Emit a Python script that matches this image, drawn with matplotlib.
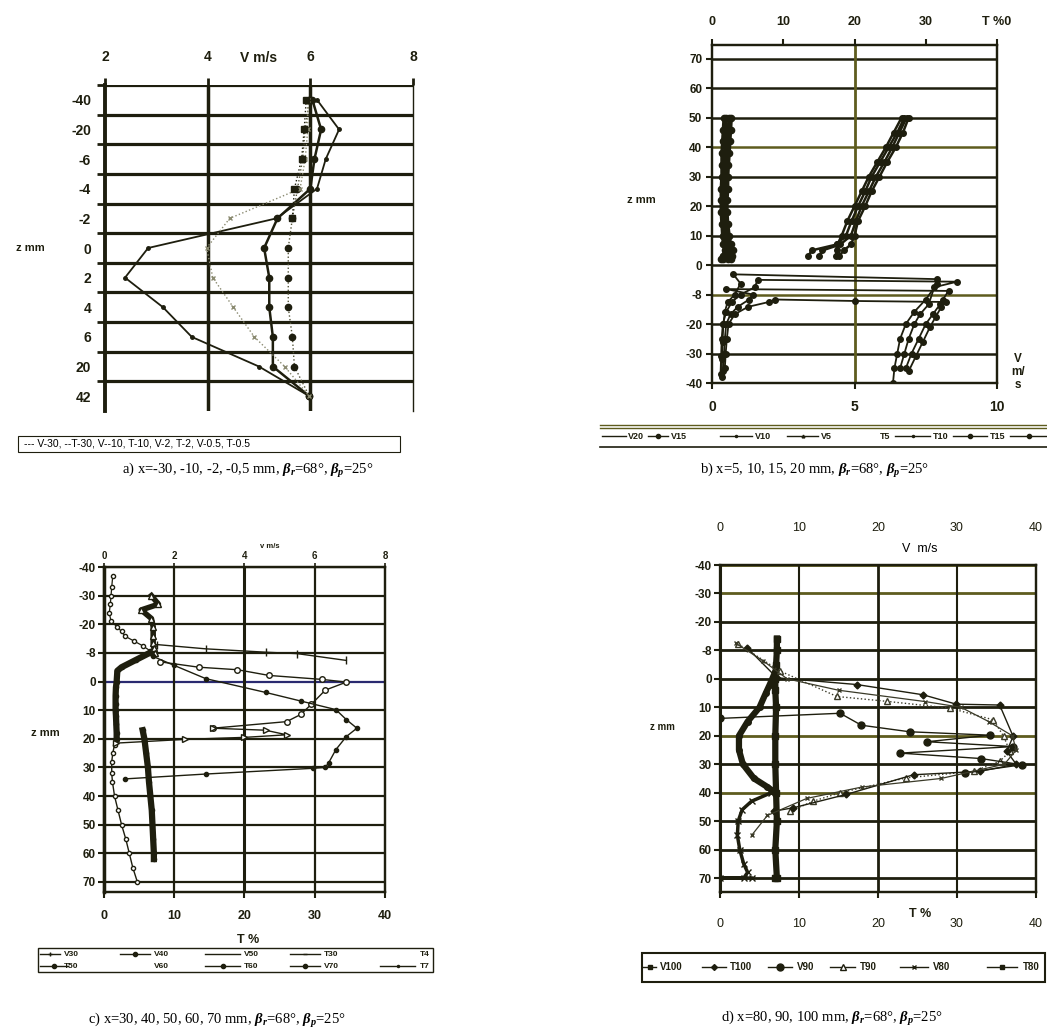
import numpy as np
import matplotlib.pyplot as plt
from matplotlib.lines import Line2D
from matplotlib.patches import Rectangle

plt.rcParams['font.family'] = ['Liberation Sans', 'DejaVu Sans']
plt.rcParams['font.weight'] = 'bold'
plt.rcParams['mathtext.fontset'] = 'custom'
plt.rcParams['mathtext.rm'] = 'Liberation Serif'
plt.rcParams['mathtext.it'] = 'Liberation Serif:italic'

INK = '#1e1e0e'
OLIVE = '#5e5c1e'

#=====================================================================#
# DATA

# a) V m/s per z row (category rows)
a_rows = ['-40', '-20', '-6', '-4', '-2', '0', '2', '4', '6', '20', '42']
a_v30 = [6.13, 6.56, 6.30, 6.13, 5.34, 2.84, 2.39, 3.13, 3.69, 5.00, 5.98]
a_v10 = [6.04, 6.21, 6.08, 6.00, 5.36, 5.10, 5.20, 5.20, 5.27, 5.27, 5.98]
a_v2 = [5.98, 5.90, 5.85, 5.75, 5.65, 5.57, 5.57, 5.57, 5.65, 5.69, 5.98]
a_t2 = [5.95, 5.95, 5.90, 5.80, 4.43, 3.98, 4.10, 4.50, 4.91, 5.50, 5.98]
a_v05 = [5.92, 5.88, 5.83, 5.69, 5.65]

# b) rows, T % above the plate, V m/s below
b_rows = [70, 60, 50, 40, 30, 20, 10, 0, -8, -20, -30, -40]
b_zl = [50, 46, 42, 38, 34, 30, 26, 22, 18, 14, 10, 7, 5, 3, 2]
b_t5l = [2.0, 1.9, 1.9, 1.8, 1.7, 1.7, 1.6, 1.6, 1.6, 1.7, 1.8, 2.0, 2.3, 2.0, 1.6]
b_t10l = [2.4, 2.3, 2.2, 2.1, 2.0, 2.0, 1.9, 1.9, 1.9, 2.0, 2.2, 2.4, 2.7, 2.5, 2.2]
b_t15l = [2.7, 2.6, 2.5, 2.4, 2.3, 2.2, 2.2, 2.1, 2.1, 2.2, 2.4, 2.6, 2.9, 2.8, 2.6]
b_t20l = [1.7, 1.6, 1.5, 1.4, 1.4, 1.4, 1.3, 1.3, 1.3, 1.4, 1.5, 1.6, 1.8, 1.5, 1.2]
b_zr = [50, 45, 40, 35, 30, 25, 20, 15, 10, 7, 5, 3]
b_t5r = [27.0, 26.0, 24.8, 23.6, 22.4, 21.5, 20.5, 19.6, 18.8, 17.5, 14.0, 13.5]
b_t10r = [27.3, 26.3, 25.3, 24.2, 23.0, 22.0, 21.0, 20.2, 19.5, 18.0, 15.5, 15.0]
b_t15r = [26.6, 25.5, 24.4, 23.2, 22.0, 21.0, 20.0, 19.0, 18.2, 17.6, 17.5, 17.4]
b_t20r = [27.6, 26.8, 25.8, 24.6, 23.5, 22.4, 21.5, 20.5, 20.0, 19.5, 18.5, 17.8]
b_v5_z = [-38, -32, -26, -20, -15, -11, -8, -5, -2.5, -3.8, -5, -10, -15, -20, -25, -30, -35, -40]
b_v5 = [0.35, 0.35, 0.37, 0.40, 0.45, 0.55, 0.80, 1.00, 0.75, 7.9, 7.9, 7.5, 7.1, 6.8, 6.6, 6.5, 6.4, 6.35]
b_v10_z = [-37, -31, -25, -20, -15, -11, -8, -6, -4, -4.5, -6, -12, -16, -20, -25, -30, -35]
b_v10 = [0.30, 0.32, 0.34, 0.38, 0.50, 0.70, 1.00, 1.50, 1.60, 8.6, 7.8, 7.6, 7.3, 7.1, 6.9, 6.75, 6.6]
b_v15_z = [-36, -30, -25, -20, -16, -13, -10, -8, -6.5, -7, -10, -12, -16, -20, -25, -30, -35]
b_v15 = [0.40, 0.42, 0.45, 0.50, 0.65, 0.90, 1.30, 1.45, 0.50, 8.3, 8.1, 8.0, 7.75, 7.5, 7.25, 7.0, 6.8]
b_v20_z = [-35, -30, -25, -20, -16, -13, -11, -10, -10.6, -11, -13, -17, -21, -26, -31, -36]
b_v20 = [0.45, 0.48, 0.52, 0.58, 0.80, 1.26, 2.00, 2.2, 5.0, 8.2, 8.05, 7.85, 7.65, 7.4, 7.15, 6.9]

# c) rows, V m/s on top axis
cd_rows = [-40, -30, -20, -8, 0, 10, 20, 30, 40, 50, 60, 70]
c1_z = [-37, -33, -30, -27, -24, -21, -19, -17, -15, -13, -11, -9, -8]
c1_v = [0.25, 0.22, 0.20, 0.18, 0.15, 0.20, 0.37, 0.50, 0.60, 0.85, 1.10, 1.30, 1.35]
c2_z = [-8, -6, -4, -3, 0, 2, 5, 8, 10, 12, 15, 18, 20]
c2_v = [1.30, 0.90, 0.50, 0.38, 0.36, 0.34, 0.33, 0.33, 0.33, 0.34, 0.35, 0.36, 0.36]
c3_z = [22, 25, 28, 32, 35, 40, 45, 50, 55, 60, 65, 70]
c3_v = [0.30, 0.25, 0.22, 0.22, 0.24, 0.30, 0.40, 0.50, 0.62, 0.72, 0.82, 0.95]
c4_z = [-30, -27, -25, -22, -19, -15, -12, -10, -8]
c4_v = [1.35, 1.55, 1.06, 1.35, 1.40, 1.40, 1.40, 1.42, 1.45]
c5_z = [17, 20, 25, 30, 35, 40, 45, 50, 55, 60, 62]
c5_v = [1.10, 1.15, 1.20, 1.25, 1.28, 1.32, 1.36, 1.38, 1.40, 1.42, 1.42]
c6_z = [-11.5, -9.7, -8.3, -7.8, -5.9]
c6_v = [1.5, 2.9, 4.6, 5.5, 6.9]
c7_z = [-5.5, -4.0, -3.3, -1.7, -0.6, 0.2, 3.0, 8.0, 11.5, 14.0, 16.3]
c7_v = [1.6, 2.7, 3.8, 4.7, 6.2, 6.9, 6.3, 5.9, 5.6, 5.2, 3.1]
c8_z = [-7, -4.5, -0.8, 3.8, 6.8, 9.8, 13.3, 16.3, 19.2, 23.8, 28.3, 30.0, 30.3, 32.3, 34.0]
c8_v = [1.4, 2.0, 2.9, 4.6, 5.6, 6.6, 6.9, 7.2, 6.9, 6.6, 6.4, 6.3, 5.95, 2.9, 0.6]
c9_z = [16.3, 17.0, 18.6, 19.5, 20.2, 21.5]
c9_v = [3.1, 4.6, 5.2, 4.0, 2.3, 0.35]

# d) rows, T % on both axes
d1_z = [-13, -8, -4, 0, 4, 10, 20, 30, 40, 50, 60, 70, 72]
d1_t = [7.2, 7.2, 7.1, 7.0, 7.0, 7.1, 7.0, 7.0, 7.1, 7.2, 7.0, 7.2, 7.0]
d2_z = [-2, 2, 5, 10, 15, 20, 25, 30, 35, 38, 40]
d2_t = [7.0, 6.3, 5.8, 5.0, 3.5, 2.4, 2.4, 2.9, 4.3, 6.0, 7.0]
d3_z = [40, 43, 46, 50, 55, 60, 65, 68, 70, 70, 72]
d3_t = [6.5, 4.0, 2.8, 2.3, 2.2, 2.5, 3.0, 3.5, 3.0, 0.0, 4.0]
d4_z = [-10.7, -2.2, 6.2, 7.9, 10.3, 14.4, 20.2, 25.5, 29.0, 32.5, 34.8, 40.0, 43.0, 46.5]
d4_t = [2.3, 7.6, 14.8, 21.1, 29.1, 34.6, 35.9, 36.7, 35.4, 32.1, 23.6, 15.2, 11.8, 8.9]
d5_z = [-9.2, -0.3, 2.0, 5.6, 8.9, 9.2, 20.2, 25.5, 30.0, 32.5, 33.7, 40.6, 45.3, 46.5]
d5_t = [3.4, 7.2, 17.3, 25.7, 29.9, 35.4, 37.1, 36.3, 37.5, 32.9, 24.5, 16.0, 9.3, 6.8]
d6_z = [13.9, 12.1, 16.3, 18.6, 19.8, 22.1, 23.8, 26.1, 28.0, 30.2, 33.0]
d6_t = [0.0, 15.2, 17.9, 24.0, 34.2, 26.2, 37.1, 22.8, 33.0, 38.2, 31.0]
d7_z = [-11, -5, 0, 4, 8, 10, 15, 20, 25, 30, 35, 38, 42, 48, 55]
d7_t = [2.0, 5.5, 8.5, 15.0, 26.0, 30.5, 34.0, 37.0, 37.5, 36.0, 28.0, 18.0, 11.0, 6.0, 4.0]

#=====================================================================#
# LAYOUT HELPERS

W, H = 1047, 1030
fig = plt.figure(figsize=(W / 100, H / 100), dpi=100)


def box(x0, y0, x1, y1):
    return [x0 / W, 1 - y1 / H, (x1 - x0) / W, (y1 - y0) / H]


def fx(x):
    return x / W


def fy(y):
    return 1 - y / H


def zpos(z, rows):
    rows = np.asarray(rows, float)
    idx = np.arange(len(rows))
    order = np.argsort(rows)
    return np.interp(z, rows[order], idx[order])


def leg_sample(x0, x1, y, marker=None, ms=3, mfc=INK):
    fig.add_artist(Line2D([fx(x0), fx(x1)], [fy(y), fy(y)], color=INK, lw=1.0))
    if marker:
        fig.add_artist(Line2D([fx((x0 + x1) / 2)], [fy(y)], color=INK, marker=marker,
                              ms=ms, mfc=mfc, ls='none'))


def leg_text(x, y, s, size=6.5):
    fig.text(fx(x), fy(y), s, fontsize=size, va='center', ha='left', color=INK)


def caption(x, y, s):
    fig.text(fx(x), fy(y), s, fontsize=10.5, ha='center', va='center',
             family='Liberation Serif', weight='normal')


def style_spines(ax, lw=1.5):
    for s in ax.spines.values():
        s.set_color(INK)
        s.set_linewidth(lw)

#=====================================================================#
# PANEL A

ax = fig.add_axes(box(105, 85, 413, 411))
ax.set_xlim(2, 8)
ax.set_ylim(10.5, -0.5)
for y in np.arange(-0.5, 10, 1):
    ax.axhline(y, color=INK, lw=2.3)
for x in [4, 6]:
    ax.axvline(x, color=INK, lw=2.5)
style_spines(ax)
ax.spines['left'].set_linewidth(2.8)
ax.spines['top'].set_visible(False)
ax.spines['bottom'].set_visible(False)
ax.spines['right'].set_linewidth(1.0)
ax.set_yticks(range(len(a_rows)))
ax.set_yticklabels(a_rows, fontsize=10)
ax.set_yticks(np.arange(-0.5, 10, 1), minor=True)
ax.tick_params(axis='y', which='major', length=0, pad=10, colors=INK)
ax.tick_params(axis='y', which='minor', length=6, width=2, colors=INK)
ax.xaxis.tick_top()
ax.set_xticks([2, 4, 6, 8])
ax.set_xticklabels(['2', '4', '6', '8'], fontsize=10)
ax.tick_params(axis='x', length=5, width=2, pad=10, colors=INK)
ax.text(5.0, -1.4, 'V m/s', ha='center', va='center', fontsize=10, color=INK)

ya = np.arange(len(a_rows))
ax.plot(a_v30, ya, color=INK, lw=1.3, marker='o', ms=2.5)
ax.plot(a_v10, ya, color=INK, lw=1.8, marker='o', ms=4.5)
ax.plot(a_v2, ya, color='#55553a', lw=1.0, ls=':', marker='o', ms=4.5, mfc=INK, mec=INK)
ax.plot(a_t2, ya, color='#8a8a70', lw=1.0, ls=':', marker='x', ms=3)
ax.plot(a_v05, ya[:len(a_v05)], color=INK, lw=1.0, ls=':', marker='s', ms=4.5)
fig.text(fx(30), fy(248), 'z mm', fontsize=8, ha='center', va='center', color=INK)

fig.add_artist(Rectangle((fx(18), fy(452)), fx(400) - fx(18), fy(436) - fy(452),
                         fill=False, lw=0.8, ec=INK))
fig.text(fx(24), fy(444), '--- V-30, --T-30, V--10, T-10, V-2, T-2, V-0.5, T-0.5',
         fontsize=7.5, weight='normal', va='center', ha='left')
caption(248, 470, r'a) x=-30, -10, -2, -0,5 mm, $\beta_r$=68°, $\beta_p$=25°')

#=====================================================================#
# PANEL B

ax = fig.add_axes(box(712, 45, 997, 383))
ax.set_xlim(0, 10)
ax.set_ylim(11, -0.47)
for i, r in enumerate(b_rows):
    ax.axhline(i, color=OLIVE if r in (40, -8) else INK, lw=1.8)
ax.axvline(5, color=OLIVE, lw=2.0)
style_spines(ax, 1.6)
ax.set_yticks(range(len(b_rows)))
ax.set_yticklabels([str(r) for r in b_rows], fontsize=8.5)
ax.tick_params(axis='y', length=4, width=1.5, pad=3, colors=INK)
ax.set_xticks([0, 5, 10])
ax.set_xticklabels(['0', '5', '10'], fontsize=10)
ax.tick_params(axis='x', length=4, width=1.5, pad=8, colors=INK)
axt = ax.twiny()
axt.set_xlim(0, 40)
axt.set_xticks([0, 10, 20, 30, 40])
axt.set_xticklabels(['0', '10', '20', '30', 'T %0'], fontsize=9)
axt.tick_params(axis='x', length=4, width=1.5, pad=8, colors=INK)
style_spines(axt, 1.6)

for t in [b_t5l, b_t10l, b_t15l, b_t20l]:
    axt.plot(t, zpos(b_zl, b_rows), color=INK, lw=2.5, marker='o', ms=4.5)
for t in [b_t5r, b_t10r, b_t15r, b_t20r]:
    axt.plot(t, zpos(b_zr, b_rows), color=INK, lw=1.8, marker='o', ms=4)
for v, z in [(b_v5, b_v5_z), (b_v10, b_v10_z), (b_v15, b_v15_z), (b_v20, b_v20_z)]:
    ax.plot(v, zpos(z, b_rows), color=INK, lw=1.3, marker='o', ms=4)

fig.text(fx(656), fy(200), 'z mm', fontsize=8, ha='right', va='center', color=INK)
fig.text(fx(1018), fy(372), 'V\nm/\ns', fontsize=8.5, ha='center', va='center',
         color=INK, linespacing=1.1)

fig.add_artist(Line2D([fx(600), fx(1047)], [fy(425), fy(425)], color=OLIVE, lw=1.0))
fig.add_artist(Line2D([fx(600), fx(1047)], [fy(428), fy(428)], color=OLIVE, lw=1.0))
fig.add_artist(Line2D([fx(600), fx(1047)], [fy(447), fy(447)], color=INK, lw=1.2))
leg_sample(602, 626, 436)
leg_text(628, 436, 'V20')
leg_sample(648, 668, 436, 'o')
leg_text(671, 436, 'V15')
leg_sample(720, 752, 436, '.')
leg_text(755, 436, 'V10')
leg_sample(787, 818, 436, '^', ms=2)
leg_text(821, 436, 'V5')
leg_text(880, 436, 'T5')
leg_sample(895, 930, 436, '.')
leg_text(933, 436, 'T10')
leg_sample(953, 987, 436, 'o')
leg_text(990, 436, 'T15')
leg_sample(1010, 1047, 436, 'o')
caption(815, 470, r'b) x=5, 10, 15, 20 mm, $\beta_r$=68°, $\beta_p$=25°')

#=====================================================================#
# PANEL C

ax = fig.add_axes(box(104, 567, 385, 892))
ax.set_xlim(0, 40)
ax.set_ylim(11.35, 0)
for i, r in enumerate(cd_rows):
    ax.axhline(i, color='#2a2a70' if r == 0 else INK, lw=1.6)
for x in [10, 20, 30]:
    ax.axvline(x, color=INK, lw=2.2 if x == 20 else 1.6)
style_spines(ax, 1.6)
ax.spines['left'].set_linewidth(2.5)
ax.set_yticks(range(len(cd_rows)))
ax.set_yticklabels([str(r) for r in cd_rows], fontsize=8.5)
ax.tick_params(axis='y', length=4, width=1.5, pad=2, colors=INK)
ax.set_xticks([0, 10, 20, 30, 40])
ax.set_xticklabels(['0', '10', '20', '30', '40'], fontsize=9)
ax.tick_params(axis='x', length=4, width=1.5, pad=9, colors=INK)
axv = ax.twiny()
axv.set_xlim(0, 8)
axv.set_xticks([0, 2, 4, 6, 8])
axv.set_xticklabels(['0', '2', '4', '6', '8'], fontsize=7)
axv.tick_params(axis='x', length=3, width=1.2, pad=1, colors=INK)
style_spines(axv, 1.6)
fig.text(fx(270), fy(547), 'v m/s', fontsize=5.5, ha='center', va='center', color=INK)

axv.plot(c1_v, zpos(c1_z, cd_rows), color=INK, lw=0.9, marker='o', ms=3, mfc='white')
axv.plot(c2_v, zpos(c2_z, cd_rows), color=INK, lw=4.5, marker='o', ms=3)
axv.plot(c3_v, zpos(c3_z, cd_rows), color=INK, lw=1.0, marker='o', ms=3, mfc='white')
axv.plot(c4_v, zpos(c4_z, cd_rows), color=INK, lw=4.0, marker='^', ms=4, mfc='white')
axv.plot(c5_v, zpos(c5_z, cd_rows), color=INK, lw=4.5, marker='o', ms=3)
axv.plot(c6_v, zpos(c6_z, cd_rows), color=INK, lw=1.0, marker='|', ms=6)
axv.plot(c7_v, zpos(c7_z, cd_rows), color=INK, lw=1.0, marker='o', ms=4, mfc='white')
axv.plot(c8_v, zpos(c8_z, cd_rows), color=INK, lw=1.0, marker='o', ms=3)
axv.plot(c9_v, zpos(c9_z, cd_rows), color=INK, lw=1.0, marker='>', ms=5, mfc='white')

fig.text(fx(45), fy(733), 'z mm', fontsize=8, ha='center', va='center', color=INK)
fig.text(fx(248), fy(940), 'T %', fontsize=9, ha='center', va='center', color=INK)

fig.add_artist(Rectangle((fx(38), fy(972)), fx(433) - fx(38), fy(948) - fy(972),
                         fill=False, lw=1.0, ec=INK))
row1 = [(40, 60, '+', 'V30'), (120, 150, 'o', 'V40'), (205, 240, None, 'V50'),
        (290, 320, '_', 'T30'), (None, None, None, 'T4')]
row2 = [(40, 68, 'o', 'T50'), (None, None, None, 'V60'), (205, 240, 'o', 'T60'),
        (290, 320, 'o', 'V70'), (380, 415, '.', 'T7')]
xs_lab = [64, 154, 244, 324, 420]
for (x0, x1, m, s), xl in zip(row1, xs_lab):
    if x0 is not None:
        leg_sample(x0, x1, 954, m)
    leg_text(xl, 954, s, size=6)
for (x0, x1, m, s), xl in zip(row2, xs_lab):
    if x0 is not None:
        leg_sample(x0, x1, 966, m)
    leg_text(xl, 966, s, size=6)
caption(217, 1021, r'c) x=30, 40, 50, 60, 70 mm, $\beta_r$=68°, $\beta_p$=25°')

#=====================================================================#
# PANEL D

ax = fig.add_axes(box(720, 565, 1036, 892))
ax.set_xlim(0, 40)
ax.set_ylim(11.49, 0)
for i, r in enumerate(cd_rows):
    ax.axhline(i, color=OLIVE if r in (-40, -30, 20, 40) else INK, lw=2.0)
for x in [10, 20, 30]:
    ax.axvline(x, color=INK, lw=2.0 if x == 20 else 1.5)
style_spines(ax, 1.6)
ax.spines['left'].set_linewidth(2.2)
ax.set_yticks(range(len(cd_rows)))
ax.set_yticklabels([str(r) for r in cd_rows], fontsize=8.5)
ax.tick_params(axis='y', length=4, width=1.5, pad=2, colors=INK)
ax.set_xticks([0, 10, 20, 30, 40])
ax.set_xticklabels(['0', '10', '20', '30', '40'], fontsize=9, weight='normal')
ax.tick_params(axis='x', length=4, width=1.5, pad=15, colors=INK)
axd = ax.twiny()
axd.set_xlim(0, 40)
axd.set_xticks([0, 10, 20, 30, 40])
axd.set_xticklabels(['0', '10', '20', '30', '40'], fontsize=9, weight='normal')
axd.tick_params(axis='x', length=0, pad=22, colors=INK)
style_spines(axd, 1.6)
fig.text(fx(920), fy(549), 'V  m/s', fontsize=9, weight='normal', ha='center', va='center')
fig.text(fx(920), fy(914), 'T %', fontsize=9, ha='center', va='center', color=INK)

ax.plot(d2_t, zpos(d2_z, cd_rows), color=INK, lw=4.5, marker='o', ms=4)
ax.plot(d3_t, zpos(d3_z, cd_rows), color=INK, lw=2.5, marker='x', ms=4)
ax.plot(d1_t, zpos(d1_z, cd_rows), color=INK, lw=4.5, marker='s', ms=4)
ax.plot(d4_t, zpos(d4_z, cd_rows), color='#3a3a28', lw=1.0, ls=':', marker='^', ms=4, mfc='white')
ax.plot(d5_t, zpos(d5_z, cd_rows), color=INK, lw=1.0, marker='D', ms=3.5)
ax.plot(d6_t, zpos(d6_z, cd_rows), color=INK, lw=1.0, marker='o', ms=5)
ax.plot(d7_t, zpos(d7_z, cd_rows), color='#3a3a28', lw=0.9, marker='x', ms=3.5)

fig.text(fx(662), fy(727), 'z mm', fontsize=7, ha='center', va='center', color=INK)

fig.add_artist(Rectangle((fx(642), fy(982)), fx(1045) - fx(642), fy(953) - fy(982),
                         fill=False, lw=1.5, ec=INK))
leg_sample(643, 656, 967, 's', ms=3.5)
leg_text(660, 967, 'V100', size=7)
leg_sample(702, 726, 967, 'D', ms=3)
leg_text(730, 967, 'T100', size=7)
leg_sample(768, 792, 967, 'o', ms=5)
leg_text(797, 967, 'V90', size=7)
leg_sample(830, 855, 967, '^', ms=4, mfc='white')
leg_text(860, 967, 'T90', size=7)
leg_sample(900, 928, 967, 'x', ms=3)
leg_text(933, 967, 'V80', size=7)
leg_sample(987, 1017, 967, 's', ms=3.5)
leg_text(1023, 967, 'T80', size=7)
caption(832, 1018, r'd) x=80, 90, 100 mm, $\beta_r$=68°, $\beta_p$=25°')

plt.savefig('out.png', dpi=100)
